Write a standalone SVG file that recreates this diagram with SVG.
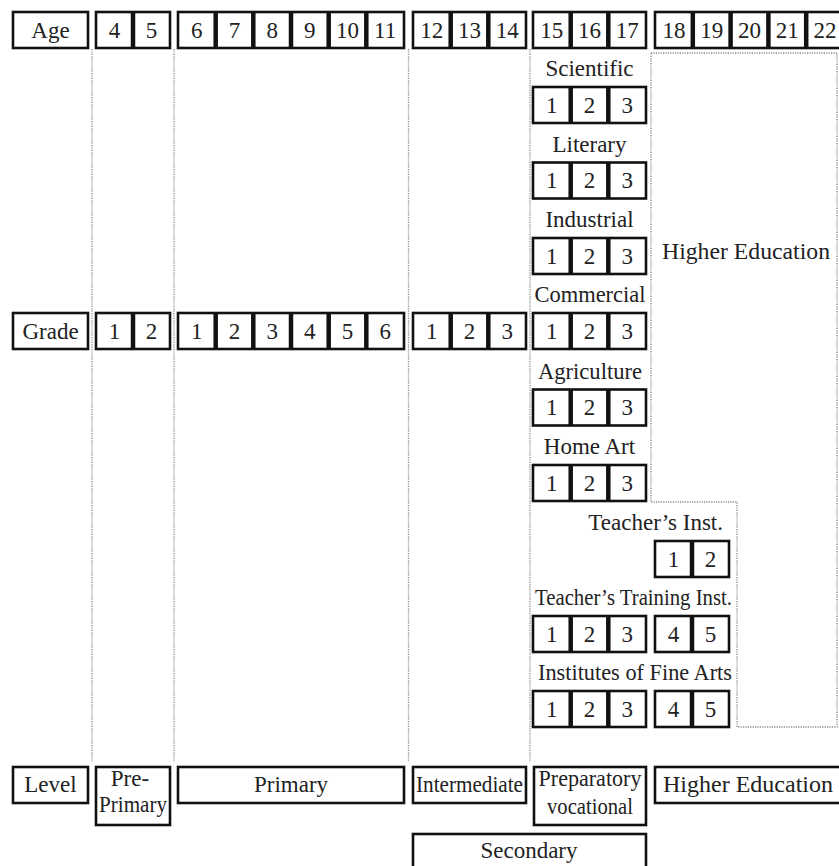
<svg xmlns="http://www.w3.org/2000/svg" width="839" height="866" viewBox="0 0 839 866">
  <style>
    .box { fill: #fff; stroke: #111; stroke-width: 2.6; }
    .div { stroke: #111; stroke-width: 4.5; }
    .guide { fill: none; stroke: #8a8a8a; stroke-width: 1.3; stroke-dasharray: 1.2 1.2; }
    text { font-family: "Liberation Serif", "Times New Roman", serif; font-size: 23px; fill: #222; text-anchor: middle; }
    .end { text-anchor: end; }
  </style>
  <rect width="839" height="866" fill="#fff"/>

  <!-- dotted column guides and the higher-education outline -->
  <g id="connectors">
    <line class="guide" x1="92" y1="49" x2="92" y2="762"/>
    <line class="guide" x1="174" y1="49" x2="174" y2="762"/>
    <line class="guide" x1="408.5" y1="49" x2="408.5" y2="762"/>
    <line class="guide" x1="530" y1="49" x2="530" y2="762"/>
    <path class="guide" d="M651,53 H837 V727 H737 V502 H651 Z"/>
  </g>

  <!-- Age row -->
  <g id="age-label"><rect class="box" x="13" y="12" width="75" height="36"/><text x="50.5" y="37.5">Age</text></g>
  <g id="age-4-5">
    <rect class="box" x="96" y="12" width="74" height="36"/>
    <line class="div" x1="133" y1="12" x2="133" y2="48"/>
    <text x="114.5" y="37.5">4</text><text x="151.5" y="37.5">5</text>
  </g>
  <g id="age-6-11">
    <rect class="box" x="178" y="12" width="226" height="36"/>
    <line class="div" x1="215.7" y1="12" x2="215.7" y2="48"/>
    <line class="div" x1="253.3" y1="12" x2="253.3" y2="48"/>
    <line class="div" x1="291" y1="12" x2="291" y2="48"/>
    <line class="div" x1="328.7" y1="12" x2="328.7" y2="48"/>
    <line class="div" x1="366.3" y1="12" x2="366.3" y2="48"/>
    <text x="196.8" y="37.5">6</text><text x="234.5" y="37.5">7</text><text x="272.2" y="37.5">8</text>
    <text x="309.8" y="37.5">9</text><text x="347.5" y="37.5">10</text><text x="385.2" y="37.5">11</text>
  </g>
  <g id="age-12-14">
    <rect class="box" x="413" y="12" width="113" height="36"/>
    <line class="div" x1="450.7" y1="12" x2="450.7" y2="48"/>
    <line class="div" x1="488.3" y1="12" x2="488.3" y2="48"/>
    <text x="431.8" y="37.5">12</text><text x="469.5" y="37.5">13</text><text x="507.2" y="37.5">14</text>
  </g>
  <g id="age-15-17">
    <rect class="box" x="533" y="12" width="113" height="36"/>
    <line class="div" x1="570.7" y1="12" x2="570.7" y2="48"/>
    <line class="div" x1="608.3" y1="12" x2="608.3" y2="48"/>
    <text x="551.8" y="37.5">15</text><text x="589.5" y="37.5">16</text><text x="627.2" y="37.5">17</text>
  </g>
  <g id="age-18-22">
    <rect class="box" x="655" y="12" width="189" height="36"/>
    <line class="div" x1="692.8" y1="12" x2="692.8" y2="48"/>
    <line class="div" x1="730.6" y1="12" x2="730.6" y2="48"/>
    <line class="div" x1="768.4" y1="12" x2="768.4" y2="48"/>
    <line class="div" x1="806.2" y1="12" x2="806.2" y2="48"/>
    <text x="673.9" y="37.5">18</text><text x="711.7" y="37.5">19</text><text x="749.5" y="37.5">20</text>
    <text x="787.3" y="37.5">21</text><text x="825.1" y="37.5">22</text>
  </g>

  <!-- Grade row -->
  <g id="grade-label"><rect class="box" x="13" y="313" width="75" height="36"/><text x="50.5" y="338.5">Grade</text></g>
  <g id="grade-preprimary">
    <rect class="box" x="96" y="313" width="74" height="36"/>
    <line class="div" x1="133" y1="313" x2="133" y2="349"/>
    <text x="114.5" y="338.5">1</text><text x="151.5" y="338.5">2</text>
  </g>
  <g id="grade-primary">
    <rect class="box" x="178" y="313" width="226" height="36"/>
    <line class="div" x1="215.7" y1="313" x2="215.7" y2="349"/>
    <line class="div" x1="253.3" y1="313" x2="253.3" y2="349"/>
    <line class="div" x1="291" y1="313" x2="291" y2="349"/>
    <line class="div" x1="328.7" y1="313" x2="328.7" y2="349"/>
    <line class="div" x1="366.3" y1="313" x2="366.3" y2="349"/>
    <text x="196.8" y="338.5">1</text><text x="234.5" y="338.5">2</text><text x="272.2" y="338.5">3</text>
    <text x="309.8" y="338.5">4</text><text x="347.5" y="338.5">5</text><text x="385.2" y="338.5">6</text>
  </g>
  <g id="grade-intermediate">
    <rect class="box" x="413" y="313" width="113" height="36"/>
    <line class="div" x1="450.7" y1="313" x2="450.7" y2="349"/>
    <line class="div" x1="488.3" y1="313" x2="488.3" y2="349"/>
    <text x="431.8" y="338.5">1</text><text x="469.5" y="338.5">2</text><text x="507.2" y="338.5">3</text>
  </g>

  <!-- Secondary streams, ages 15-17 -->
  <g id="scientific">
    <text x="589.5" y="76">Scientific</text>
    <rect class="box" x="533" y="87" width="113" height="36"/>
    <line class="div" x1="570.7" y1="87" x2="570.7" y2="123"/>
    <line class="div" x1="608.3" y1="87" x2="608.3" y2="123"/>
    <text x="551.8" y="112.5">1</text><text x="589.5" y="112.5">2</text><text x="627.2" y="112.5">3</text>
  </g>
  <g id="literary">
    <text x="589.5" y="151.5">Literary</text>
    <rect class="box" x="533" y="162.5" width="113" height="36"/>
    <line class="div" x1="570.7" y1="162.5" x2="570.7" y2="198.5"/>
    <line class="div" x1="608.3" y1="162.5" x2="608.3" y2="198.5"/>
    <text x="551.8" y="188">1</text><text x="589.5" y="188">2</text><text x="627.2" y="188">3</text>
  </g>
  <g id="industrial">
    <text x="589.5" y="227">Industrial</text>
    <rect class="box" x="533" y="238" width="113" height="36"/>
    <line class="div" x1="570.7" y1="238" x2="570.7" y2="274"/>
    <line class="div" x1="608.3" y1="238" x2="608.3" y2="274"/>
    <text x="551.8" y="263.5">1</text><text x="589.5" y="263.5">2</text><text x="627.2" y="263.5">3</text>
  </g>
  <g id="commercial">
    <text x="590" y="302" textLength="111" lengthAdjust="spacingAndGlyphs">Commercial</text>
    <rect class="box" x="533" y="313" width="113" height="36"/>
    <line class="div" x1="570.7" y1="313" x2="570.7" y2="349"/>
    <line class="div" x1="608.3" y1="313" x2="608.3" y2="349"/>
    <text x="551.8" y="338.5">1</text><text x="589.5" y="338.5">2</text><text x="627.2" y="338.5">3</text>
  </g>
  <g id="agriculture">
    <text x="590" y="378.5" textLength="104" lengthAdjust="spacingAndGlyphs">Agriculture</text>
    <rect class="box" x="533" y="389.5" width="113" height="36"/>
    <line class="div" x1="570.7" y1="389.5" x2="570.7" y2="425.5"/>
    <line class="div" x1="608.3" y1="389.5" x2="608.3" y2="425.5"/>
    <text x="551.8" y="415">1</text><text x="589.5" y="415">2</text><text x="627.2" y="415">3</text>
  </g>
  <g id="home-art">
    <text x="589.5" y="454">Home Art</text>
    <rect class="box" x="533" y="465" width="113" height="36"/>
    <line class="div" x1="570.7" y1="465" x2="570.7" y2="501"/>
    <line class="div" x1="608.3" y1="465" x2="608.3" y2="501"/>
    <text x="551.8" y="490.5">1</text><text x="589.5" y="490.5">2</text><text x="627.2" y="490.5">3</text>
  </g>

  <!-- Higher education area -->
  <g id="higher-education-area">
    <text x="746" y="259" textLength="168" lengthAdjust="spacingAndGlyphs">Higher Education</text>
  </g>

  <!-- Institutes -->
  <g id="teachers-inst">
    <text class="end" x="723" y="530">Teacher’s Inst.</text>
    <rect class="box" x="655" y="541" width="74" height="36"/>
    <line class="div" x1="692" y1="541" x2="692" y2="577"/>
    <text x="673.5" y="566.5">1</text><text x="710.5" y="566.5">2</text>
  </g>
  <g id="teachers-training-inst">
    <text x="633.5" y="605" textLength="197" lengthAdjust="spacingAndGlyphs">Teacher’s Training Inst.</text>
    <rect class="box" x="533" y="616" width="113" height="36"/>
    <line class="div" x1="570.7" y1="616" x2="570.7" y2="652"/>
    <line class="div" x1="608.3" y1="616" x2="608.3" y2="652"/>
    <text x="551.8" y="641.5">1</text><text x="589.5" y="641.5">2</text><text x="627.2" y="641.5">3</text>
    <rect class="box" x="655" y="616" width="74" height="36"/>
    <line class="div" x1="692" y1="616" x2="692" y2="652"/>
    <text x="673.5" y="641.5">4</text><text x="710.5" y="641.5">5</text>
  </g>
  <g id="fine-arts-inst">
    <text x="635" y="680" textLength="194" lengthAdjust="spacingAndGlyphs">Institutes of Fine Arts</text>
    <rect class="box" x="533" y="691" width="113" height="36"/>
    <line class="div" x1="570.7" y1="691" x2="570.7" y2="727"/>
    <line class="div" x1="608.3" y1="691" x2="608.3" y2="727"/>
    <text x="551.8" y="716.5">1</text><text x="589.5" y="716.5">2</text><text x="627.2" y="716.5">3</text>
    <rect class="box" x="655" y="691" width="74" height="36"/>
    <line class="div" x1="692" y1="691" x2="692" y2="727"/>
    <text x="673.5" y="716.5">4</text><text x="710.5" y="716.5">5</text>
  </g>

  <!-- Level row -->
  <g id="level-label"><rect class="box" x="13" y="767" width="75" height="36"/><text x="50.5" y="792">Level</text></g>
  <g id="level-preprimary">
    <rect class="box" x="96" y="767" width="74" height="58"/>
    <text x="130" y="786">Pre-</text>
    <text x="133" y="812" textLength="68" lengthAdjust="spacingAndGlyphs">Primary</text>
  </g>
  <g id="level-primary"><rect class="box" x="178" y="767" width="226" height="36"/><text x="291" y="792">Primary</text></g>
  <g id="level-intermediate"><rect class="box" x="413" y="767" width="113" height="36"/><text x="469.5" y="792" textLength="107" lengthAdjust="spacingAndGlyphs">Intermediate</text></g>
  <g id="level-preparatory">
    <rect class="box" x="534" y="767" width="112" height="58"/>
    <text x="590" y="786" textLength="103" lengthAdjust="spacingAndGlyphs">Preparatory</text>
    <text x="590" y="814" textLength="86" lengthAdjust="spacingAndGlyphs">vocational</text>
  </g>
  <g id="level-higher"><rect class="box" x="655" y="767" width="189" height="36"/><text x="748" y="792" textLength="170" lengthAdjust="spacingAndGlyphs">Higher Education</text></g>
  <g id="level-secondary"><rect class="box" x="413" y="834" width="233" height="40"/><text x="529" y="858">Secondary</text></g>
</svg>
